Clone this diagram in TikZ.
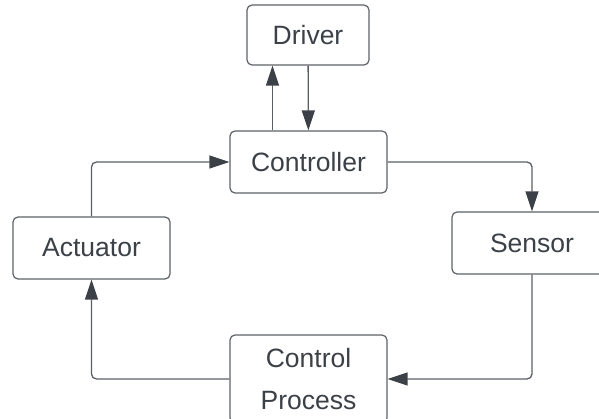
\documentclass[tikz,border=0pt]{standalone}
\usepackage{fontspec}
\setmainfont{Liberation Sans}
\usepackage{tikz}
\usetikzlibrary{arrows.meta}
\usetikzlibrary{positioning}
\usepackage{xcolor}
\definecolor{boxline}{HTML}{5F6368}
\definecolor{inkgrey}{HTML}{3C4148}
\definecolor{wiregrey}{HTML}{5A5F66}

\begin{document}
\begin{tikzpicture}[
  x=1pt, y=-1pt,
  block/.style={rectangle, draw=boxline, line width=1.2pt, fill=white,
    minimum width=157pt, minimum height=62pt,
    rounded corners=5pt, align=center, text=inkgrey,
    font=\fontsize{26.5}{42}\selectfont},
  arrow/.style={-{Triangle[length=20pt, width=13pt, color=inkgrey]},
    line width=1.3pt, draw=wiregrey, rounded corners=5pt},
]
\useasboundingbox (0,0) rectangle (599,419);

% === Blocks ===
\node[block] (controller) at (308.5,162) {Controller};
\node[block, minimum width=122pt, minimum height=60pt] (driver) at (308,35) {Driver};
\node[block] (actuator) at (91.5,248) {Actuator};
\node[block, minimum width=160pt] (sensor) at (532,243) {Sensor};
\node[block, minimum height=88pt] (process) at (308.5,379) {Control\\Process};

% === Arrows ===
\draw[arrow] ([xshift=-36pt]controller.north) -- ([xshift=-36pt]controller.north |- driver.south);
\draw[arrow] (driver) -- (controller);
\draw[arrow] (controller.east) -| (sensor.north);
\draw[arrow] (sensor.south) |- (process.east);
\draw[arrow] (process.west) -| (actuator.south);
\draw[arrow] (actuator.north) |- (controller.west);

\end{tikzpicture}
\end{document}
